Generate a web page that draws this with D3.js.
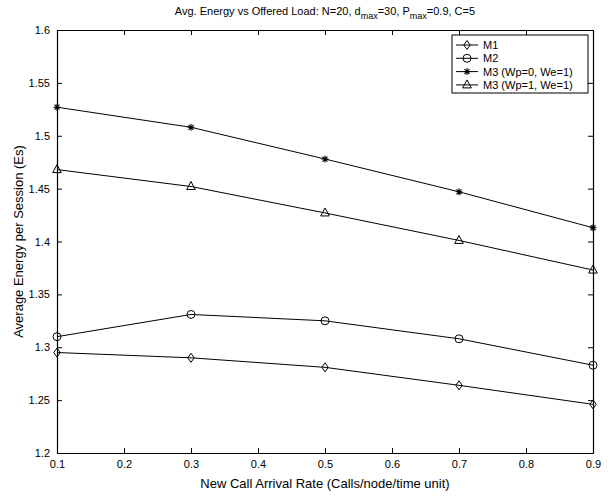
<!DOCTYPE html>
<html>
<head>
<meta charset="utf-8">
<script src="https://cdn.jsdelivr.net/npm/d3@7"></script>
<style>
  body { margin: 0; background: #fff; }
  text { font-family: "Liberation Sans", Arial, sans-serif; fill: #000; }
</style>
</head>
<body>
<div id="chart"></div>
<script>
// data
var rates = [0.1, 0.3, 0.5, 0.7, 0.9];
var m1 = [1.295, 1.290, 1.281, 1.264, 1.246];
var m2 = [1.310, 1.331, 1.325, 1.308, 1.283];
var m3a = [1.527, 1.508, 1.478, 1.447, 1.413];
var m3b = [1.468, 1.452, 1.427, 1.401, 1.373];
var xTicks = [0.1, 0.2, 0.3, 0.4, 0.5, 0.6, 0.7, 0.8, 0.9];
var yTicks = [1.2, 1.25, 1.3, 1.35, 1.4, 1.45, 1.5, 1.55, 1.6];
var seriesNames = ['M1', 'M2', 'M3 (Wp=0, We=1)', 'M3 (Wp=1, We=1)'];
var seriesMarkers = ['diamond', 'circle', 'star', 'triangle'];

var W = 613, H = 496;
var margin = { left: 57, right: 20, top: 30, bottom: 43 };

var svg = d3.select('#chart').append('svg')
  .attr('width', W).attr('height', H);

var x = d3.scaleLinear().domain([0.1, 0.9]).range([margin.left, W - margin.right]);
var y = d3.scaleLinear().domain([1.2, 1.6]).range([H - margin.bottom, margin.top]);

// axes (MATLAB-style box with inward ticks on all sides)
var fmt = function(d) { return String(+d.toFixed(2)); };
svg.append('g').attr('transform', 'translate(0,' + y(1.2) + ')')
  .call(d3.axisBottom(x).tickValues(xTicks).tickSizeInner(-5).tickSizeOuter(0).tickPadding(7).tickFormat(fmt));
svg.append('g').attr('transform', 'translate(0,' + y(1.6) + ')')
  .call(d3.axisTop(x).tickValues(xTicks).tickSizeInner(-5).tickSizeOuter(0).tickFormat(''));
svg.append('g').attr('transform', 'translate(' + x(0.1) + ',0)')
  .call(d3.axisLeft(y).tickValues(yTicks).tickSizeInner(-5).tickSizeOuter(0).tickPadding(7).tickFormat(fmt));
svg.append('g').attr('transform', 'translate(' + x(0.9) + ',0)')
  .call(d3.axisRight(y).tickValues(yTicks).tickSizeInner(-5).tickSizeOuter(0).tickFormat(''));

svg.selectAll('.domain').attr('stroke', '#000').attr('stroke-width', 1.2);
svg.selectAll('.tick line').attr('stroke', '#000');
svg.selectAll('.tick text').style('font-size', '11px').attr('fill', '#000');

// marker shapes
function marker(g, type) {
  if (type === 'diamond') {
    g.append('path').attr('d', 'M0,-4.5L3.2,0L0,4.5L-3.2,0Z').attr('fill', 'none').attr('stroke', '#000');
  } else if (type === 'circle') {
    g.append('circle').attr('r', 4).attr('fill', 'none').attr('stroke', '#000');
  } else if (type === 'triangle') {
    g.append('path').attr('d', 'M0,-5L4.3,3L-4.3,3Z').attr('fill', 'none').attr('stroke', '#000');
  } else if (type === 'star') {
    g.append('path').attr('d', 'M-3.5,0H3.5M0,-3.5V3.5M-2.5,-2.5L2.5,2.5M-2.5,2.5L2.5,-2.5')
      .attr('stroke', '#000').attr('stroke-width', 1.1);
  }
}

var allSeries = [m1, m2, m3a, m3b];
var line = d3.line().x(function(d, i) { return x(rates[i]); }).y(function(d) { return y(d); });

allSeries.forEach(function(vals, k) {
  svg.append('path').datum(vals)
    .attr('d', line).attr('fill', 'none').attr('stroke', '#000').attr('stroke-width', 1);
  vals.forEach(function(v, i) {
    var g = svg.append('g').attr('transform', 'translate(' + x(rates[i]) + ',' + y(v) + ')');
    marker(g, seriesMarkers[k]);
  });
});

// legend
var lg = svg.append('g').attr('transform', 'translate(452,35)');
lg.append('rect').attr('width', 136).attr('height', 58)
  .attr('fill', '#fff').attr('stroke', '#000').attr('stroke-width', 1);
seriesNames.forEach(function(name, k) {
  var ry = 10 + k * 13.3;
  lg.append('line').attr('x1', 4).attr('x2', 26).attr('y1', ry).attr('y2', ry).attr('stroke', '#000');
  marker(lg.append('g').attr('transform', 'translate(15,' + ry + ')'), seriesMarkers[k]);
  lg.append('text').attr('x', 31).attr('y', ry + 4).style('font-size', '11px').text(name);
});

// title with subscripts
var title = svg.append('text').attr('x', (x(0.1) + x(0.9)) / 2).attr('y', 15)
  .attr('text-anchor', 'middle').style('font-size', '11px');
title.append('tspan').text('Avg. Energy vs Offered Load: N=20, d');
title.append('tspan').attr('dy', 4).style('font-size', '9px').text('max');
title.append('tspan').attr('dy', -4).text('=30, P');
title.append('tspan').attr('dy', 4).style('font-size', '9px').text('max');
title.append('tspan').attr('dy', -4).text('=0.9, C=5');

// axis labels
svg.append('text').attr('x', (x(0.1) + x(0.9)) / 2).attr('y', 488)
  .attr('text-anchor', 'middle').style('font-size', '13px')
  .text('New Call Arrival Rate (Calls/node/time unit)');
svg.append('text').attr('transform', 'translate(23,' + (y(1.4)) + ') rotate(-90)')
  .attr('text-anchor', 'middle').style('font-size', '13px')
  .text('Average Energy per Session (Es)');
</script>
</body>
</html>
